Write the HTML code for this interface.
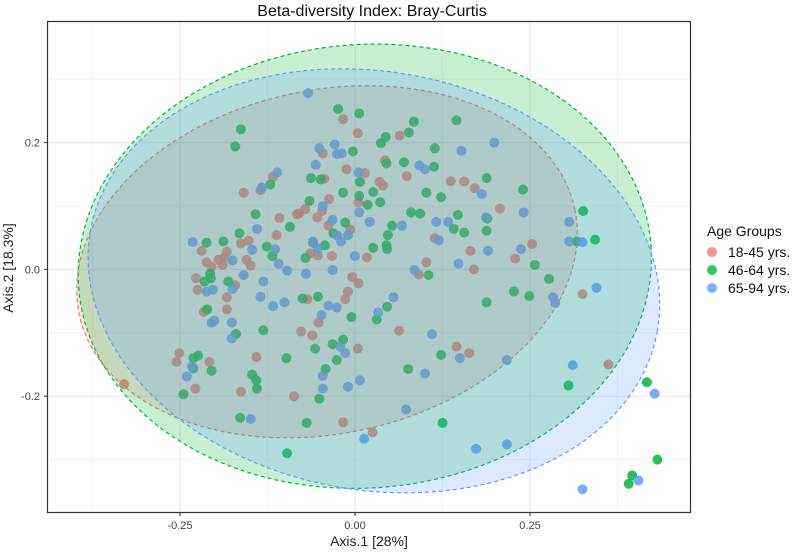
<!DOCTYPE html>
<html><head><meta charset="utf-8"><style>
html,body{margin:0;padding:0;background:#fff;}
svg{display:block;font-family:"Liberation Sans",sans-serif;}
</style></head><body>
<svg id="chart" width="796" height="552" viewBox="0 0 796 552">
<text x="372" y="16" text-anchor="middle" font-size="16" fill="#111">Beta-diversity Index: Bray-Curtis</text>
<g id="grid"></g>
<g id="points"></g>
<g id="ellipses"></g>
<rect x="47.5" y="21.5" width="643" height="491" fill="none" stroke="#333" stroke-width="1.2"/>
<g id="axes"></g>
<text x="369" y="546" text-anchor="middle" font-size="14" fill="#222">Axis.1   [28%]</text>
<text transform="translate(13,268) rotate(-90)" text-anchor="middle" font-size="14" fill="#222">Axis.2   [18.3%]</text>
<g>
<text x="707" y="236" font-size="14" fill="#111">Age Groups</text>
<g><circle cx="712" cy="252" r="5" fill="#F8766D" fill-opacity="0.8"/><text x="728" y="257" font-size="14" fill="#111">18-45 yrs.</text></g>
<g><circle cx="712" cy="270" r="5" fill="#00BA38" fill-opacity="0.8"/><text x="728" y="275" font-size="14" fill="#111">46-64 yrs.</text></g>
<g><circle cx="712" cy="288" r="5" fill="#619CFF" fill-opacity="0.8"/><text x="728" y="293" font-size="14" fill="#111">65-94 yrs.</text></g>
</g>
</svg>
<script>
const groupNames = ["18-45", "46-64", "65-94"];
const groupColors = ["#F8766D", "#00BA38", "#619CFF"];
const xTicks = [-0.25, 0, 0.25];
const xTickLabels = ["-0.25", "0.00", "0.25"];
const yTicks = [-0.2, 0, 0.2];
const yTickLabels = ["-0.2", "0.0", "0.2"];
const xMinor = [-0.375, -0.125, 0.125, 0.375];
const yMinor = [-0.3, -0.1, 0.1, 0.3];
// ellipses: center, major vector, minor vector (data units)
const ellipseCenters = [[-0.040, 0.012], [0.014, 0.005], [0.027, -0.018]];
const ellipseMajor = [[0.354, 0.083], [0.409, 0.032], [0.405, -0.079]];
const ellipseMinor = [[0.051, -0.265], [0.022, -0.349], [-0.052, -0.325]];
const redX = [-0.017,0.004,0.064,-0.046,0.043,-0.012,-0.117,-0.135,-0.159,-0.044,0.014,0.035,0.040,0.005,-0.037,-0.071,-0.080,-0.083,-0.054,-0.047,-0.108,-0.038,-0.007,-0.112,-0.219,-0.163,-0.152,-0.064,-0.053,-0.033,0.017,-0.212,-0.205,-0.195,-0.189,-0.183,-0.187,-0.155,-0.149,-0.227,-0.225,-0.171,-0.183,-0.004,0.005,-0.010,-0.014,-0.068,-0.052,0.063,-0.216,-0.183,-0.077,-0.061,0.004,-0.017,0.025,-0.087,-0.141,-0.163,-0.251,-0.255,-0.208,-0.228,-0.330,0.074,0.137,0.156,0.171,0.207,0.114,0.165,0.102,0.170,0.091,0.229,0.253,0.325,0.145,0.163,0.362];
const redY = [0.237,0.215,0.211,0.183,0.172,0.158,0.146,0.125,0.121,0.143,0.152,0.138,0.132,0.106,0.111,0.095,0.088,0.087,0.082,0.092,0.081,0.069,0.063,0.054,0.029,0.041,0.045,0.025,0.022,0.021,0.019,0.011,0.004,0.015,0.007,0.028,0.019,0.015,0.006,-0.014,-0.032,-0.025,-0.044,-0.012,-0.022,-0.035,-0.047,-0.047,-0.084,-0.097,-0.067,-0.063,-0.098,-0.104,-0.125,-0.241,-0.257,-0.200,-0.138,-0.193,-0.132,-0.146,-0.146,-0.188,-0.181,0.147,0.139,0.139,0.128,0.096,0.049,0.029,0.011,0.000,-0.008,0.017,0.040,-0.039,-0.122,-0.132,-0.150];
const greenX = [-0.024,0.006,-0.163,-0.171,0.037,0.044,-0.003,0.045,-0.121,-0.063,-0.049,0.007,0.026,-0.017,0.006,0.018,0.036,-0.065,-0.142,-0.014,-0.031,-0.093,-0.165,-0.212,-0.188,-0.126,-0.118,-0.060,-0.043,-0.071,0.026,0.045,0.046,0.047,0.053,-0.207,-0.215,-0.206,-0.181,-0.075,-0.053,-0.005,0.046,0.031,-0.211,-0.170,-0.131,-0.032,-0.017,-0.057,-0.026,-0.042,-0.051,-0.069,-0.097,-0.098,-0.147,-0.141,-0.140,-0.164,-0.224,-0.231,-0.231,-0.205,-0.245,0.084,0.077,0.145,0.114,0.070,0.113,0.188,0.240,0.102,0.123,0.080,0.093,0.147,0.189,0.188,0.141,0.156,0.105,0.257,0.277,0.317,0.326,0.343,0.227,0.249,0.188,0.123,0.076,0.305,0.417,0.125,0.432,0.396,0.391];
const greenY = [0.253,0.246,0.221,0.194,0.199,0.209,0.186,0.167,0.134,0.144,0.142,0.138,0.122,0.121,0.116,0.102,0.106,0.108,0.087,0.074,0.057,0.067,0.057,0.042,0.044,0.036,0.021,0.042,0.038,0.018,0.034,0.038,0.032,0.054,0.069,-0.007,-0.019,-0.014,-0.019,-0.046,-0.043,-0.075,-0.059,-0.079,-0.063,-0.102,-0.096,-0.118,-0.111,-0.125,-0.143,-0.157,-0.204,-0.242,-0.290,-0.140,-0.166,-0.175,-0.188,-0.234,-0.136,-0.140,-0.156,-0.160,-0.197,0.233,0.216,0.235,0.191,0.169,0.162,0.144,0.126,0.121,0.114,0.090,0.088,0.086,0.080,0.061,0.064,0.058,-0.009,0.007,-0.015,0.044,0.092,0.047,-0.035,-0.042,-0.052,-0.135,-0.157,-0.183,-0.178,-0.242,-0.300,-0.325,-0.338];
const blueX = [-0.067,-0.051,-0.029,-0.026,-0.019,-0.056,-0.111,-0.133,0.005,0.006,-0.046,-0.032,-0.025,-0.020,-0.010,-0.140,-0.232,-0.147,-0.114,-0.060,-0.053,0.000,0.021,-0.175,-0.159,-0.131,-0.109,-0.097,-0.070,-0.032,-0.212,-0.203,-0.175,-0.135,-0.117,-0.101,-0.038,-0.026,-0.048,0.055,0.033,-0.201,-0.205,-0.176,-0.176,-0.021,-0.014,-0.046,-0.046,-0.010,0.007,0.013,-0.149,-0.233,-0.240,0.199,0.152,0.092,0.100,0.181,0.241,0.067,0.116,0.133,0.187,0.120,0.190,0.148,0.085,0.237,0.306,0.306,0.325,0.345,0.283,0.286,0.110,0.150,0.100,0.217,0.311,0.428,0.073,0.173,0.217,0.405,0.325];
const blueY = [0.278,0.191,0.197,0.182,0.183,0.165,0.153,0.129,0.153,0.090,0.100,0.078,0.053,0.044,0.054,0.064,0.043,0.031,0.032,0.044,0.033,0.021,0.075,0.014,-0.009,-0.019,0.009,-0.002,-0.007,-0.001,-0.035,-0.032,-0.031,-0.043,-0.058,-0.052,-0.057,-0.060,-0.072,-0.044,-0.068,-0.081,-0.084,-0.084,-0.109,-0.122,-0.132,-0.168,-0.188,-0.185,-0.175,-0.267,-0.236,-0.153,-0.169,0.200,0.187,0.164,0.158,0.119,0.090,0.069,0.075,0.075,0.082,0.046,0.029,0.009,-0.001,0.032,0.075,0.044,0.043,-0.029,-0.044,-0.053,-0.102,-0.140,-0.164,-0.143,-0.151,-0.196,-0.221,-0.283,-0.276,-0.333,-0.347];

const NS = "http://www.w3.org/2000/svg";
const X0 = 355, XS = 700, Y0 = 269.4, YS = 634;
function sx(v){ return X0 + v * XS; }
function sy(v){ return Y0 - v * YS; }
function mk(tag, attrs, parent){ const e = document.createElementNS(NS, tag); for (const k in attrs) e.setAttribute(k, attrs[k]); parent.appendChild(e); return e; }

const grid = document.getElementById("grid");
const axes = document.getElementById("axes");
xMinor.forEach(v => { const l = mk("line", {x1: sx(v), x2: sx(v), y1: 22, y2: 512, stroke: "#f2f2f2", "stroke-width": 0.8}, grid);
  
   });
yMinor.forEach(v => { const l = mk("line", {x1: 48, x2: 690, y1: sy(v), y2: sy(v), stroke: "#f2f2f2", "stroke-width": 0.8}, grid);
  
   });
xTicks.forEach((v, i) => {
  const l = mk("line", {x1: sx(v), x2: sx(v), y1: 22, y2: 512, stroke: "#e6e6e6", "stroke-width": 1}, grid);
  
  
  const t = mk("line", {x1: sx(v), x2: sx(v), y1: 512, y2: 516, stroke: "#333"}, axes);
  
  
  const tx = mk("text", {x: sx(v), y: 529, "text-anchor": "middle", "font-size": 11, fill: "#444"}, axes);
  tx.textContent = xTickLabels[i];
  
  
});
yTicks.forEach((v, i) => {
  const l = mk("line", {x1: 48, x2: 690, y1: sy(v), y2: sy(v), stroke: "#e6e6e6", "stroke-width": 1}, grid);
  
  
  const t = mk("line", {x1: 44, x2: 48, y1: sy(v), y2: sy(v), stroke: "#333"}, axes);
  
  
  const tx = mk("text", {x: 40, y: sy(v) + 4, "text-anchor": "end", "font-size": 11, fill: "#444"}, axes);
  tx.textContent = yTickLabels[i];
  
  
});

const pg = document.getElementById("points");
const seriesX = [redX, greenX, blueX], seriesY = [redY, greenY, blueY];
[0, 1, 2].forEach(g => {
  seriesX[g].forEach((v, j) => {
    const c = mk("circle", {cx: sx(v), cy: sy(seriesY[g][j]), r: 5, fill: groupColors[g], "fill-opacity": 0.85}, pg);
    
    
  });
});

const eg = document.getElementById("ellipses");
function ellipsePath(i){
  let d = "";
  for (let k = 0; k <= 120; k++){
    const t = k / 120 * 2 * Math.PI;
    const x = ellipseCenters[i][0] + ellipseMajor[i][0] * Math.cos(t) + ellipseMinor[i][0] * Math.sin(t);
    const y = ellipseCenters[i][1] + ellipseMajor[i][1] * Math.cos(t) + ellipseMinor[i][1] * Math.sin(t);
    d += (k ? "L" : "M") + sx(x).toFixed(1) + "," + sy(y).toFixed(1);
  }
  return d + "Z";
}
[0, 1, 2].forEach(i => {
  const p = mk("path", {d: ellipsePath(i), fill: groupColors[i], "fill-opacity": 0.22, stroke: groupColors[i], "stroke-width": 1.2, "stroke-dasharray": "4,3"}, eg);
  
  
});
</script>
</body></html>
